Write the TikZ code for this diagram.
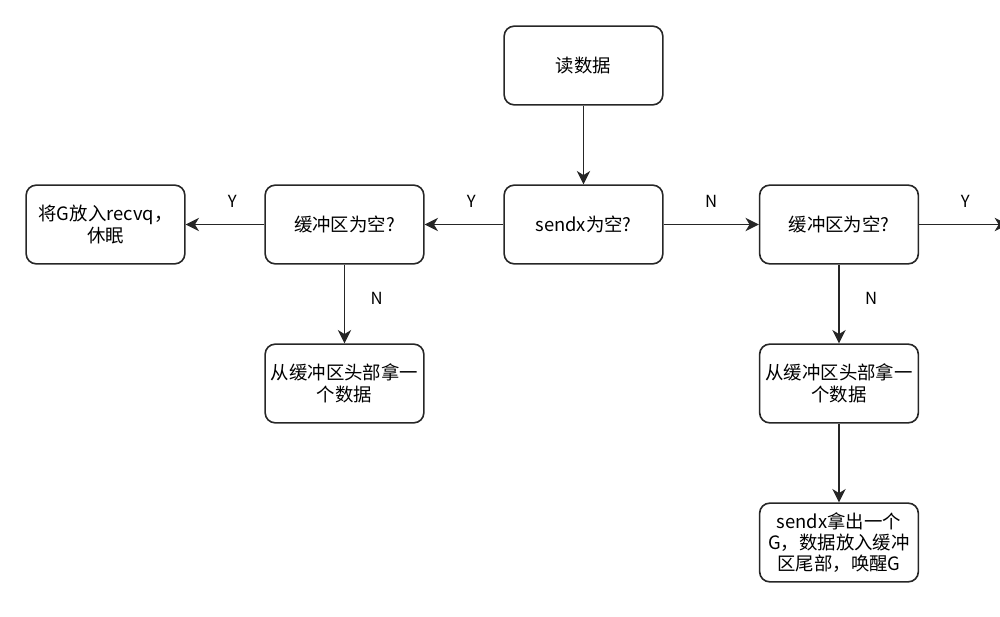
\documentclass[tikz,border=0pt]{standalone}
\usepackage{fontspec}
\setmainfont{Noto Sans CJK SC}
\usetikzlibrary{arrows.meta}
\begin{document}
\begin{tikzpicture}[x=0.75pt,y=-0.75pt,
  box/.style={draw=black!85, line width=1.2pt, rounded corners=7.5pt, minimum width=119pt, minimum height=59pt, align=center, font=\fontsize{13.8}{16}\selectfont, inner sep=1pt},
  conn/.style={draw=black!85, line width=1.25pt, -{Stealth[length=10pt,width=10pt,inset=3pt]}},
  lbl/.style={font=\fontsize{12.5}{14}\selectfont, inner sep=0pt}]
\useasboundingbox (0,0) rectangle (1000,617);
\node[box] (read) at (583.5,65.5) {读数据};
\node[box] (sendx) at (583.5,224.5) {sendx为空?};
\node[box] (lbuf) at (344.5,224.5) {缓冲区为空?};
\node[box] (sleep) at (105.5,224.5) {将G放入recvq，\\休眠};
\node[box] (lhead) at (344.5,383.5) {从缓冲区头部拿一\\个数据};
\node[box] (rbuf) at (839,224.5) {缓冲区为空?};
\node[box] (rhead) at (839,383.5) {从缓冲区头部拿一\\个数据};
\node[box] (swap) at (839,542.5) {sendx拿出一个\\G，数据放入缓冲\\区尾部，唤醒G};
\coordinate (off) at (1008,224.5);
\draw[conn] (read) -- (sendx);
\draw[conn] (sendx) -- node[lbl, above=12pt, xshift=5.5pt] {Y} (lbuf);
\draw[conn] (lbuf) -- node[lbl, above=12pt, xshift=5.5pt] {Y} (sleep);
\draw[conn] (lbuf) -- node[lbl, right=19pt, yshift=4.5pt] {N} (lhead);
\draw[conn] (sendx) -- node[lbl, above=12pt] {N} (rbuf);
\draw[conn] (rbuf) -- node[lbl, right=19pt, yshift=4.5pt] {N} (rhead);
\draw[conn] (rhead) -- (swap);
\draw[conn] (rbuf.east) -- node[lbl, above=12pt, pos=0.52] {Y} (off);
\end{tikzpicture}
\end{document}
